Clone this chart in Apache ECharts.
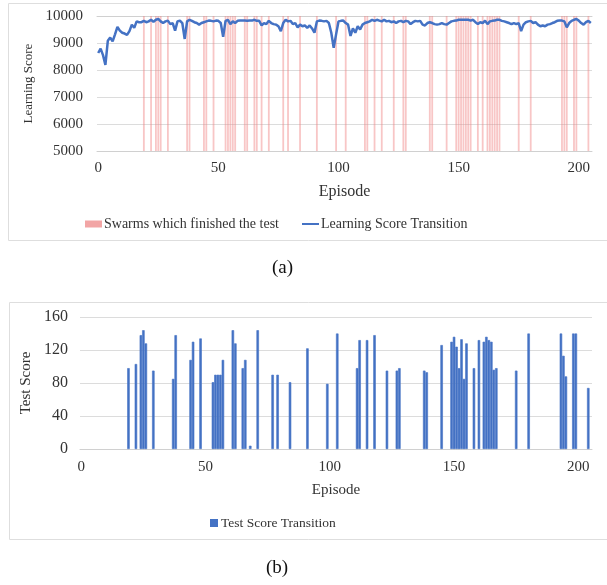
<!DOCTYPE html>
<html>
<head>
<meta charset="utf-8">
<script src="https://cdn.jsdelivr.net/npm/echarts@6/dist/echarts.min.js"></script>
<style>
  html, body { margin: 0; background: #fff; }
  #chart { width: 607px; height: 585px; }
</style>
</head>
<body>
<div id="chart"></div>
<script>
// episode numbers on the category axes (0..205)
const episodes = []
for (let i = 0; i <= 205; i++) episodes.push(String(i))

// learning score per episode (a)
const learningScores = [
  8630, 8790, 8550, 8190, 9080, 9200, 9060, 9320, 9600, 9460,
  9380, 9350, 9300, 9440, 9680, 9560, 9800, 9770, 9770, 9820,
  9770, 9800, 9860, 9780, 9860, 9890, 9800, 9740, 9800, 9830,
  9700, 9740, 9460, 9800, 9830, 9740, 9150, 9800, 9860, 9820,
  9770, 9740, 9680, 9740, 9770, 9800, 9830, 9820, 9800, 9830,
  9820, 9740, 9230, 9820, 9860, 9700, 9800, 9740, 9820, 9830,
  9830, 9830, 9820, 9830, 9830, 9860, 9820, 9820, 9650, 9740,
  9700, 9820, 9740, 9700, 9680, 9620, 9440, 9740, 9860, 9800,
  9820, 9700, 9740, 9580, 9680, 9620, 9650, 9560, 9650, 9540,
  9380, 9800, 9830, 9820, 9800, 9820, 9740, 9380, 8820, 9320,
  9800, 9820, 9830, 9740, 9680, 9260, 9540, 9380, 9620, 9500,
  9680, 9740, 9770, 9800, 9860, 9820, 9860, 9830, 9800, 9860,
  9800, 9820, 9770, 9800, 9740, 9800, 9820, 9770, 9820, 9800,
  9700, 9770, 9820, 9800, 9820, 9680, 9650, 9740, 9770, 9740,
  9700, 9680, 9700, 9740, 9700, 9680, 9740, 9800, 9820, 9830,
  9860, 9860, 9860, 9860, 9860, 9830, 9860, 9770, 9700, 9770,
  9740, 9830, 9700, 9800, 9820, 9830, 9860, 9860, 9820, 9800,
  9770, 9740, 9700, 9740, 9700, 9740, 9440, 9680, 9770, 9800,
  9820, 9740, 9770, 9680, 9620, 9650, 9620, 9680, 9700, 9740,
  9770, 9820, 9830, 9830, 9800, 9580, 9740, 9820, 9860, 9890,
  9830, 9740, 9680, 9770, 9820, 9740,
]

// episodes whose swarm finished the test, and the test score of each
const testEpisodes = [
  19, 22, 24, 25, 26, 29, 37, 38, 44, 45,
  48, 53, 54, 55, 56, 57, 61, 62, 65, 66,
  68, 71, 77, 79, 84, 91, 99, 103, 111, 112,
  115, 118, 123, 127, 128, 138, 139, 145, 149, 150,
  151, 152, 153, 154, 155, 158, 160, 162, 163, 164,
  165, 166, 167, 175, 180, 193, 194, 195, 198, 199,
  204,
]
const testScores = [
  98, 103, 138, 144, 128, 95, 85, 138, 108, 130,
  134, 81, 90, 90, 90, 108, 144, 128, 98, 108,
  4, 144, 90, 90, 81, 122, 79, 140, 98, 132,
  132, 138, 95, 95, 98, 95, 93, 126, 130, 136,
  124, 98, 133, 85, 128, 98, 132, 130, 136, 132,
  130, 96, 98, 95, 140, 140, 113, 88, 140, 140,
  74,
]

const yTicksA = { min: 5000, max: 10000, interval: 1000 }
const yTicksB = { min: 0, max: 160, interval: 40 }

const font = 'Liberation Serif'
const textColor = '#333'
const blue = '#4472c4'
const pink = 'rgba(240, 128, 128, 0.45)'

const chart = echarts.init(document.getElementById('chart'))

function catAxis(gridIndex, opts) {
  return Object.assign({
    gridIndex,
    type: 'category',
    data: episodes,
    boundaryGap: true,
    axisLine: { lineStyle: { color: '#d0d0d0' } },
    axisTick: { interval: 0, length: 3, lineStyle: { color: '#c0c0c0' } },
    axisLabel: { interval: 49, margin: 10, fontFamily: font, fontSize: 15, color: textColor },
    nameLocation: 'middle',
    nameTextStyle: { fontFamily: font, fontSize: 15, color: textColor },
  }, opts)
}

function valAxis(gridIndex, ticks, opts) {
  return Object.assign({
    gridIndex,
    type: 'value',
    min: ticks.min,
    max: ticks.max,
    interval: ticks.interval,
    axisLine: { show: false },
    axisTick: { show: false },
    splitLine: { lineStyle: { color: '#dcdcdc' } },
    nameLocation: 'middle',
  }, opts)
}

chart.setOption({
  animation: false,
  grid: [
    { left: 97, right: 15, top: 16, height: 135, containLabel: false },
    { left: 80, right: 15, top: 317, height: 132, containLabel: false },
  ],
  xAxis: [
    catAxis(0, { name: 'Episode', nameGap: 33, nameTextStyle: { fontFamily: font, fontSize: 16, color: textColor } }),
    catAxis(0, { position: 'top', axisLabel: { show: false } }),
    catAxis(1, { name: 'Episode', nameGap: 34, axisLabel: { interval: 49, margin: 11, fontFamily: font, fontSize: 15, color: textColor } }),
  ],
  yAxis: [
    valAxis(0, yTicksA, {
      name: 'Learning Score',
      nameGap: 59,
      nameTextStyle: { fontFamily: font, fontSize: 13, color: textColor },
      axisLabel: { margin: 14, fontFamily: font, fontSize: 15, color: textColor, formatter: v => String(v) },
    }),
    valAxis(1, yTicksB, {
      name: 'Test Score',
      nameGap: 42,
      nameTextStyle: { fontFamily: font, fontSize: 15, color: textColor },
      axisLabel: { margin: 12, fontFamily: font, fontSize: 16, color: textColor, formatter: v => String(v) },
    }),
  ],
  legend: [
    {
      data: [{ name: 'Swarms which finished the test', itemStyle: { color: '#f2a5a5' } }],
      left: 80,
      top: 212,
      icon: 'rect',
      itemWidth: 17,
      itemHeight: 7,
      textStyle: { fontFamily: font, fontSize: 14, color: textColor, padding: [0, 0, 0, -3] },
    },
    {
      data: ['Learning Score Transition'],
      left: 297,
      top: 212,
      icon: 'rect',
      itemWidth: 17,
      itemHeight: 2,
      textStyle: { fontFamily: font, fontSize: 14, color: textColor, padding: [0, 0, 0, -3] },
    },
    {
      data: [{ name: 'Test Score Transition', itemStyle: { borderWidth: 0 } }],
      left: 205,
      top: 511,
      icon: 'rect',
      itemWidth: 8,
      itemHeight: 8,
      textStyle: { fontFamily: font, fontSize: 13.5, color: textColor, padding: [0, 0, 0, -2] },
    },
  ],
  graphic: [
    { type: 'rect', shape: { x: 8.5, y: 3.5, width: 620, height: 237 }, style: { fill: 'none', stroke: '#dedede', lineWidth: 1 }, silent: true },
    { type: 'rect', shape: { x: 9.5, y: 302.5, width: 620, height: 237 }, style: { fill: 'none', stroke: '#dedede', lineWidth: 1 }, silent: true },
    { type: 'text', left: 272, top: 259, style: { text: '(a)', fontFamily: font, fontSize: 19, fill: '#111' } },
    { type: 'text', left: 266, top: 559, style: { text: '(b)', fontFamily: font, fontSize: 19, fill: '#111' } },
  ],
  series: [
    {
      name: 'Swarms which finished the test',
      type: 'bar',
      xAxisIndex: 1,
      yAxisIndex: 0,
      data: testEpisodes.map(e => [e, yTicksA.max]),
      barCategoryGap: '25%',
      itemStyle: { color: pink },
      clip: true,
    },
    {
      name: 'Learning Score Transition',
      type: 'line',
      xAxisIndex: 0,
      yAxisIndex: 0,
      data: learningScores,
      showSymbol: false,
      lineStyle: { width: 2.5, color: blue },
      itemStyle: { color: blue },
      z: 5,
    },
    {
      name: 'Test Score Transition',
      type: 'bar',
      xAxisIndex: 2,
      yAxisIndex: 1,
      data: testEpisodes.map((e, i) => [e, testScores[i]]),
      barCategoryGap: '0%',
      itemStyle: { color: blue, borderColor: blue, borderWidth: 0.6 },
    },
  ],
})
</script>
</body>
</html>
